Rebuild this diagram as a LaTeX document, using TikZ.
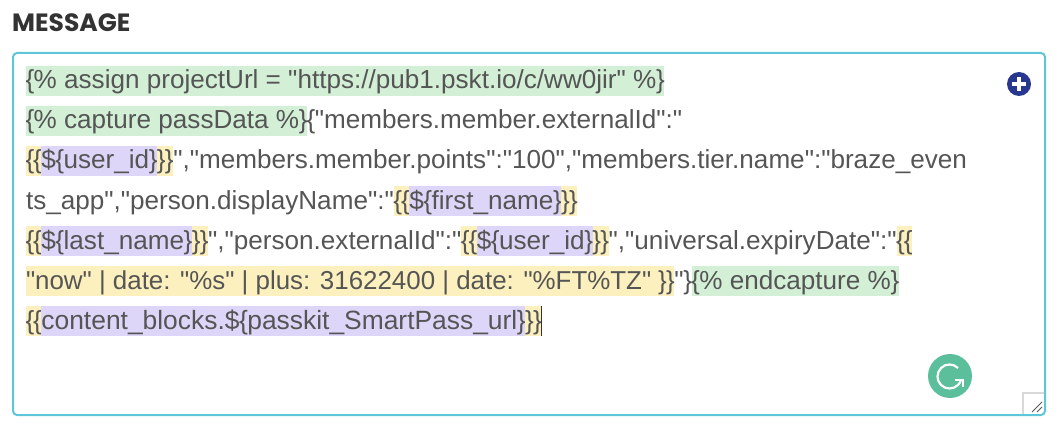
\documentclass[tikz,border=0pt]{standalone}
\usepackage{fontspec}
\setmainfont{Liberation Sans}[Ligatures=TeXOff]
\newfontfamily\headfont{Poppins}
\usepackage{xcolor}
\usetikzlibrary{positioning}

\definecolor{boxcyan}{HTML}{5FC6D9}
\definecolor{bodygray}{HTML}{555555}
\definecolor{taggreen}{HTML}{D3F0D7}
\definecolor{tagyellow}{HTML}{FCF0BE}
\definecolor{tagpurple}{HTML}{DDD6F8}
\definecolor{plusblue}{HTML}{28388F}
\definecolor{gramgreen}{HTML}{5BBF9C}

% narrower braces
\newcommand{\lbr}{\kern-0.5pt\{\kern-0.5pt}
\newcommand{\rbr}{\kern-0.35pt\}\kern-0.35pt}

\tikzset{
    plain/.style={inner sep=0pt, outer sep=0pt, text height=23pt, text depth=7pt,
        text=bodygray, font=\fontsize{26.1}{30}\selectfont},
    green tag/.style={plain, fill=taggreen},
    yellow tag/.style={plain, fill=tagyellow},
    purple tag/.style={plain, fill=tagpurple},
    node distance=0pt
}

\begin{document}
\begin{tikzpicture}[x=1pt, y=-1pt]
    \useasboundingbox (0,0) rectangle (1061,433);

    \node[inner sep=0pt, anchor=base west, text=black!80, font=\headfont\bfseries\fontsize{25}{28}\selectfont] (title) at (12,32) {MESSAGE};

    \draw[boxcyan, line width=2pt, rounded corners=4pt] (13,53) rectangle (1045,415);

    % line 1
    \node[green tag, anchor=base west] (a1) at (26,89) {\lbr\% assign projectUrl = "https://pub1.pskt.io/c/ww0jir" \%\rbr};

    % line 2
    \node[green tag, anchor=base west] (b1) at (26,129) {\lbr\% capture passData \%\rbr};
    \node[plain, base right=of b1] (b2) {\lbr"members.member.externalId":"};

    % line 3
    \node[yellow tag, anchor=base west] (c1) at (26,169) {\lbr\lbr};
    \node[purple tag, base right=of c1] (c2) {\$\lbr user\_id\rbr};
    \node[yellow tag, base right=of c2] (c3) {\rbr\rbr};
    \node[plain, base right=of c3] (c4) {","members.member.points":"100","members.tier.name":"braze\_even};

    % line 4
    \node[plain, anchor=base west] (d1) at (26,209) {ts\_app","person.displayName":"};
    \node[yellow tag, base right=of d1] (d2) {\lbr\lbr};
    \node[purple tag, base right=of d2] (d3) {\$\lbr first\_name\rbr};
    \node[yellow tag, base right=of d3] (d4) {\rbr\rbr};

    % line 5
    \node[yellow tag, anchor=base west] (e1) at (26,249) {\lbr\lbr};
    \node[purple tag, base right=of e1] (e2) {\$\lbr last\_name\rbr};
    \node[yellow tag, base right=of e2] (e3) {\rbr\rbr};
    \node[plain, base right=of e3] (e4) {","person.externalId":"};
    \node[yellow tag, base right=of e4] (e5) {\lbr\lbr};
    \node[purple tag, base right=of e5] (e6) {\$\lbr user\_id\rbr};
    \node[yellow tag, base right=of e6] (e7) {\rbr\rbr};
    \node[plain, base right=of e7] (e8) {","universal.expiryDate":"};
    \node[yellow tag, base right=of e8] (e9) {\lbr\lbr\ };

    % line 6
    \node[yellow tag, anchor=base west, font=\fontsize{25.9}{30}\selectfont] (f1) at (26,289) {"now" | date: "\%s" | plus: 31622400 | date: "\%FT\%TZ" \rbr\rbr};
    \node[plain, base right=of f1] (f2) {"\rbr};
    \node[green tag, base right=of f2] (f3) {\lbr\% endcapture \%\rbr};

    % line 7
    \node[yellow tag, anchor=base west] (g1) at (26,329) {\lbr\lbr};
    \node[purple tag, base right=of g1, font=\fontsize{26.4}{30}\selectfont] (g2) {content\_blocks.\$\lbr passkit\_SmartPass\_url\rbr};
    \node[yellow tag, base right=of g2] (g3) {\rbr\rbr};
    \draw[black!80, line width=1pt] (541,306) -- (541,336);

    % plus button
    \node[circle, fill=plusblue, minimum size=24pt, inner sep=0pt] (plus) at (1019,84) {};
    \draw[white, line width=3.5pt] (1012,84) -- (1026,84);
    \draw[white, line width=3.5pt] (1019,77) -- (1019,91);

    % grammarly button
    \node[circle, fill=gramgreen, minimum size=44pt, inner sep=0pt] (gram) at (950,376) {};
    \draw[white, line width=2.2pt] (958,368) arc (-45:-345:12);
    \draw[white, line width=2.2pt] (955,380) -- (963,380) -- (963,387);

    % resize handle
    \draw[black!15, line width=1.5pt] (1023,414) -- (1023,393) -- (1044,393);
    \draw[black!65, line width=0.9pt] (1032,412) -- (1042,402);
    \draw[black!65, line width=0.9pt] (1037,412) -- (1042,407);
\end{tikzpicture}
\end{document}
